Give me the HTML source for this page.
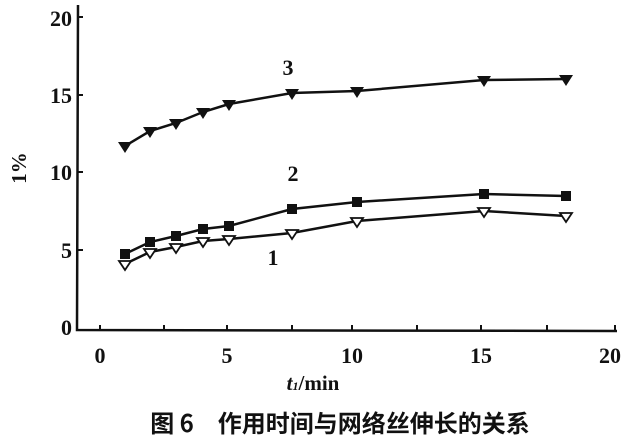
<!DOCTYPE html>
<html><head><meta charset="utf-8"><style>
body{margin:0;background:#fff;}
svg{display:block;}
text{font-family:"Liberation Serif","Noto Serif CJK SC",serif;font-weight:bold;fill:#111;}
</style></head><body>
<svg width="640" height="447" viewBox="0 0 640 447">
<g stroke="#111" stroke-width="2.5" fill="none">
<path d="M78 5 L77 330 L617 331"/>
</g>
<g stroke="#111" stroke-width="2">
<line x1="77" y1="17" x2="83" y2="17"/><line x1="77" y1="95" x2="83" y2="95"/><line x1="77" y1="172" x2="83" y2="172"/><line x1="77" y1="250" x2="83" y2="250"/>
<line x1="100" y1="330" x2="100" y2="325"/><line x1="164" y1="330" x2="164" y2="325"/><line x1="227" y1="330" x2="227" y2="325"/><line x1="292" y1="330" x2="292" y2="325"/><line x1="352" y1="330" x2="352" y2="325"/><line x1="417" y1="330" x2="417" y2="325"/><line x1="481" y1="330" x2="481" y2="325"/><line x1="547" y1="330" x2="547" y2="325"/><line x1="615" y1="331" x2="615" y2="325"/>
</g>
<g font-size="22" text-anchor="end">
<text x="72" y="26">20</text><text x="72" y="103">15</text><text x="72" y="180">10</text><text x="72" y="258">5</text><text x="72" y="335">0</text>
</g>
<g font-size="22" text-anchor="middle">
<text x="100" y="363">0</text><text x="227" y="363">5</text><text x="352" y="363">10</text><text x="481" y="363">15</text><text x="610" y="363">20</text>
<text x="288" y="75">3</text><text x="293" y="181">2</text><text x="273" y="265">1</text>
</g>
<text x="0" y="0" font-size="21" transform="translate(26,168) rotate(-90)" text-anchor="middle">1%</text>
<text x="313" y="390" font-size="21" text-anchor="middle"><tspan font-style="italic">t</tspan><tspan font-size="12" font-style="italic">1</tspan>/min</text>
<text x="340" y="432" font-size="24" text-anchor="middle" style="font-family:'Noto Sans CJK SC',sans-serif;font-weight:bold">图 6　作用时间与网络丝伸长的关系</text>
<g stroke="#111" stroke-width="2.5" fill="none">
<polyline points="125,146 150,131 176,123 203,112 229,104 292,93 357,91 484,80 566,79"/>
<polyline points="125,254 150,242 176,236 203,229 229,226 292,209 357,202 484,194 566,196"/>
<polyline points="125,264 150,252 176,247 203,241 229,239 292,233 357,221 484,211 566,216"/>
</g>
<g fill="#111">
<path d="M118 142h14l-7 11z M143 127h14l-7 11z M169 119h14l-7 11z M196 108h14l-7 11z M222 100h14l-7 11z M285 89h14l-7 11z M350 87h14l-7 11z M477 76h14l-7 11z M559 75h14l-7 11z"/>
<rect x="120" y="249" width="10" height="10"/><rect x="145" y="237" width="10" height="10"/><rect x="171" y="231" width="10" height="10"/><rect x="198" y="224" width="10" height="10"/><rect x="224" y="221" width="10" height="10"/><rect x="287" y="204" width="10" height="10"/><rect x="352" y="197" width="10" height="10"/><rect x="479" y="189" width="10" height="10"/><rect x="561" y="191" width="10" height="10"/>
</g>
<g fill="#fff" stroke="#111" stroke-width="1.8">
<path d="M119 261h12l-6 9z M144 249h12l-6 9z M170 244h12l-6 9z M197 238h12l-6 9z M223 236h12l-6 9z M286 230h12l-6 9z M351 218h12l-6 9z M478 208h12l-6 9z M560 213h12l-6 9z"/>
</g>
</svg>
</body></html>
